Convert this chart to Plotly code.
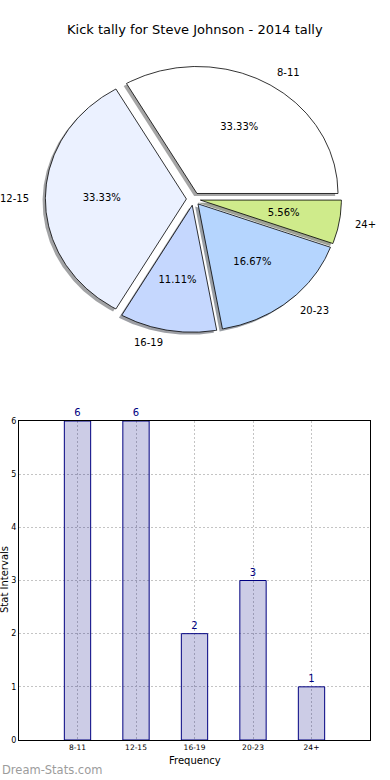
import numpy as np
import plotly.graph_objects as go

# ---------------- data ----------------
categories = ["8-11", "12-15", "16-19", "20-23", "24+"]
counts = [6, 6, 2, 3, 1]
pie_colors = ["#ffffff", "#ebf1ff", "#c5d7fe", "#b5d5fe", "#cfeb8b"]
title_text = "Kick tally for Steve Johnson - 2014 tally"
x_title = "Frequency"
y_title = "Stat Intervals"
watermark = "Dream-Stats.com"

FONT = "DejaVu Sans"
explode = 0.05
shadow_off = 0.02

fig = go.Figure()

total = float(sum(counts))


def hex_rgb(h):
    h = h.lstrip("#")
    return tuple(int(h[i:i + 2], 16) for i in (0, 2, 4))


# compute wedge geometry from data
wedges = []
theta = 0.0
for cat, val, col in zip(categories, counts, pie_colors):
    frac = val / total
    t1 = theta
    t2 = theta + 360.0 * frac
    mid = np.deg2rad((t1 + t2) / 2.0)
    cx, cy = explode * np.cos(mid), explode * np.sin(mid)
    ang = np.deg2rad(np.linspace(t1, t2, max(int(t2 - t1) * 2 + 2, 4)))
    xs = np.concatenate([[cx], cx + np.cos(ang), [cx]])
    ys = np.concatenate([[cy], cy + np.sin(ang), [cy]])
    wedges.append(dict(cat=cat, frac=frac, mid=mid, cx=cx, cy=cy, xs=xs, ys=ys, col=col))
    theta = t2

# shadows (below all wedges)
for w in wedges:
    r, g, b = hex_rgb(w["col"])
    fig.add_trace(go.Scatter(
        x=w["xs"] - shadow_off, y=w["ys"] - shadow_off, mode="lines", fill="toself",
        fillcolor=f"rgba({int(r*0.3)},{int(g*0.3)},{int(b*0.3)},0.5)",
        line=dict(width=0, color="rgba(0,0,0,0)"),
        xaxis="x2", yaxis="y2", hoverinfo="skip", showlegend=False))

# wedges
for w in wedges:
    fig.add_trace(go.Scatter(
        x=w["xs"], y=w["ys"], mode="lines", fill="toself", fillcolor=w["col"],
        line=dict(width=0.8, color="black"),
        xaxis="x2", yaxis="y2", hoverinfo="skip", showlegend=False))

# percentage texts
fig.add_trace(go.Scatter(
    x=[w["cx"] + 0.6 * np.cos(w["mid"]) for w in wedges],
    y=[w["cy"] + 0.6 * np.sin(w["mid"]) for w in wedges],
    text=["%1.2f%%" % (w["frac"] * 100) for w in wedges],
    mode="text", textposition="middle center",
    textfont=dict(family=FONT, size=10, color="black"),
    xaxis="x2", yaxis="y2", hoverinfo="skip", showlegend=False))

annotations = []
for w in wedges:
    lx = w["cx"] + 1.1 * np.cos(w["mid"])
    ly = w["cy"] + 1.1 * np.sin(w["mid"])
    annotations.append(dict(
        x=lx, y=ly, xref="x2", yref="y2", text=w["cat"], showarrow=False,
        xanchor="left" if lx > 0 else "right", yanchor="middle",
        font=dict(family=FONT, size=10, color="black")))

# ---------------- bar chart ----------------
xpos = list(range(len(categories)))
fig.add_trace(go.Bar(
    x=xpos, y=counts, width=0.45,
    marker=dict(color="rgba(0,0,128,0.2)", line=dict(color="#000080", width=1)),
    text=[str(c) for c in counts], textposition="outside",
    textfont=dict(family=FONT, size=10, color="#000080"),
    cliponaxis=False, xaxis="x", yaxis="y", hoverinfo="skip", showlegend=False))

annotations += [
    dict(text=title_text, x=0.5, y=1 - 30 / 780, xref="paper", yref="paper",
         showarrow=False, xanchor="center", yanchor="middle",
         font=dict(family=FONT, size=13, color="black")),
    dict(text=x_title, x=195 / 390, y=1 - 760 / 780, xref="paper", yref="paper",
         showarrow=False, xanchor="center", yanchor="middle",
         font=dict(family=FONT, size=10, color="black")),
    dict(text=y_title, x=4 / 390, y=1 - 580 / 780, xref="paper", yref="paper",
         showarrow=False, xanchor="center", yanchor="middle", textangle=-90,
         font=dict(family=FONT, size=10, color="black")),
    dict(text=watermark, x=0, y=1 - 770 / 780, xref="paper", yref="paper",
         showarrow=False, xanchor="left", yanchor="middle",
         font=dict(family=FONT, size=11.5, color="#9c9c9c")),
]

grid_common = dict(showgrid=True, gridcolor="#c4c4c4", griddash="2px,2px", gridwidth=1,
                   showline=True, mirror=True, linecolor="black", linewidth=1,
                   zeroline=False, ticks="", automargin=False, fixedrange=True)

fig.update_layout(
    width=390, height=780,
    margin=dict(l=0, r=0, t=0, b=0),
    paper_bgcolor="white", plot_bgcolor="white",
    showlegend=False,
    font=dict(family=FONT),
    annotations=annotations,
    bargap=0,
    xaxis=dict(domain=[19 / 390, 370 / 390], range=[-1, 5],
               tickvals=xpos, ticktext=categories,
               tickfont=dict(family=FONT, size=7.5, color="black"), **grid_common),
    yaxis=dict(domain=[1 - 740 / 780, 1 - 421 / 780], range=[0, 6], dtick=1,
               tickfont=dict(family=FONT, size=8, color="black"), **grid_common),
    xaxis2=dict(domain=[0, 1], range=[-1.372, 1.394], visible=False,
                anchor="y2", fixedrange=True),
    yaxis2=dict(domain=[1 - 360 / 780, 1 - 40 / 780], range=[-1.268, 1.252],
                visible=False, anchor="x2", fixedrange=True),
)

fig.write_html(
    "out.html",
    config={"displayModeBar": False, "staticPlot": True},
    post_script="document.body.style.margin='0';document.body.style.overflow='hidden';",
)
